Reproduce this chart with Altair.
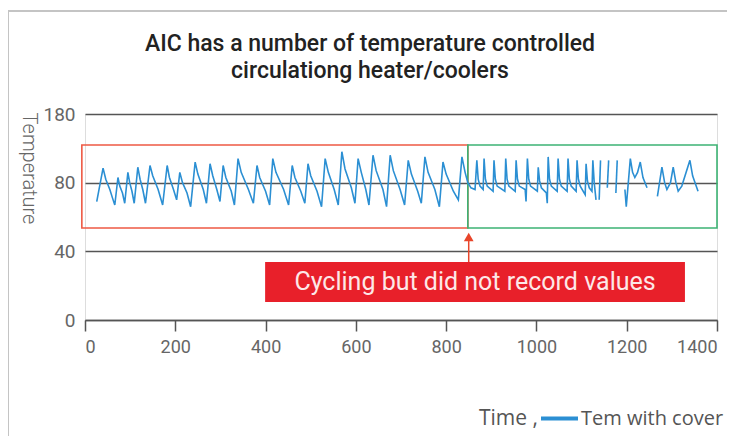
import altair as alt
import pandas as pd

# ---------------- data ----------------
title_lines = ["AIC has a number of temperature controlled", "circulationg heater/coolers"]
series_name = "Tem with cover"
legend_prefix = "Time ,"

# main recorded stretch
time_a = [26, 40, 46, 55, 61, 66,
          73, 77, 83, 88,
          95, 99, 104, 109,
          117, 122, 128, 134,
          144, 150, 162, 172,
          182, 187, 196, 203,
          210, 216, 226, 234,
          244, 250, 262, 269,
          277, 283, 292, 299,
          306, 312, 324, 331,
          339, 346, 362, 373,
          381, 387, 400, 409,
          416, 423, 440, 451,
          459, 465, 478, 487,
          494, 500, 514, 524,
          532, 539, 552, 561,
          569, 576, 590, 598,
          605, 612, 622, 629,
          638, 645, 660, 668,
          676, 683, 698, 708,
          716, 723, 737, 745,
          753, 760, 775, 785,
          793, 800, 816, 827,
          835, 842, 848,
          855, 864,
          868, 871, 875, 882,
          884, 887, 891, 904,
          906, 909, 913, 930,
          932, 935, 939, 953,
          955, 958, 962, 975, 977,
          980, 983, 987, 1002,
          1004, 1007, 1011, 1022, 1024,
          1026, 1029, 1033, 1046,
          1048, 1051, 1055, 1068,
          1070, 1073, 1077, 1088,
          1090, 1093, 1097, 1108,
          1110, 1113, 1117, 1123,
          1125, 1128, 1132]
temp_a = [69, 88.5, 82, 76, 71, 67,
          83, 78, 74, 68,
          86, 80, 75, 68,
          89, 82, 76, 68,
          90, 84, 76, 67,
          90, 83, 76, 70,
          86, 80, 74, 66,
          92, 85, 76, 68,
          91, 84, 76, 69,
          90, 83, 75, 67,
          94, 86, 76, 68,
          90, 83, 75, 67,
          94, 86, 76, 67,
          90, 83, 75, 68,
          91, 84, 75, 66,
          94, 86, 76, 67,
          98, 88, 77, 68,
          94, 86, 76, 67,
          96, 87, 76, 66,
          96, 87, 76, 67,
          93, 85, 75, 68,
          95, 86, 76, 66,
          92, 85, 75, 70,
          95, 86, 80,
          77, 76,
          93, 82, 78, 76,
          94, 82, 78, 75,
          93, 82, 78, 75,
          94, 82, 78, 75,
          93, 82, 78, 76, 69,
          94, 82, 78, 75,
          89, 81, 77, 74, 68,
          95, 82, 78, 75,
          94, 82, 78, 75,
          94, 82, 78, 75,
          93, 82, 78, 73,
          91, 81, 77, 75,
          93, 80, 70]

# short recorded fragments
time_b = [1139, 1142]
temp_b = [70, 93]
time_c = [1157, 1160]
temp_c = [77, 93]
time_d = [1176, 1179]
temp_d = [74, 93]
time_e = [1196, 1199, 1208, 1213, 1218, 1224, 1230, 1236, 1245]
temp_e = [76, 66, 94, 86, 83, 86, 92, 83, 77]
time_f = [1268, 1278, 1284, 1289, 1297, 1303, 1309, 1314, 1322, 1340, 1346, 1358]
temp_f = [72, 89, 80, 76, 80, 89, 80, 75, 78, 93, 84, 75]

# axis ticks
x_ticks = [0, 200, 400, 600, 800, 1000, 1200, 1400]
y_ticks = [0, 40, 80, 120]
y_tick_labels = ["0", "40", "80", "180"]

# annotation regions (data units)
box_start = [-7, 848]
box_end = [848, 1400]
box_low = [53.6, 53.6]
box_high = [101.9, 101.9]
box_color = ["#ee5a44", "#3db374"]

note_text = "Cycling but did not record values"
note_x = [399, 1329]
note_y = [10.5, 33.8]
arrow_x = 850
arrow_y = [33.8, 46]
arrow_head_y = 48.3

# ---------------- build ----------------
rows = []
for seg, (xs, ys) in enumerate([(time_a, temp_a), (time_b, temp_b), (time_c, temp_c),
                                 (time_d, temp_d), (time_e, temp_e), (time_f, temp_f)]):
    for xv, yv in zip(xs, ys):
        rows.append({"time": xv, "temp": yv, "seg": seg, "series": series_name})
df = pd.DataFrame(rows)

FONT = "Roboto"
x_scale = alt.Scale(domain=[0, 1400], nice=False, zero=False)
y_scale = alt.Scale(domain=[0, 120], nice=False)

label_expr = " : ".join(
    f"datum.value == {v} ? '{l}'" for v, l in zip(y_ticks, y_tick_labels)
) + " : datum.label"

line = alt.Chart(df).mark_line(strokeWidth=1.6).encode(
    x=alt.X("time:Q", scale=x_scale,
            axis=alt.Axis(values=x_ticks, format="d", title=None, grid=False,
                          domainColor="#555", domainWidth=1.5, tickColor="#555",
                          tickWidth=1.5, tickSize=11, labelFont=FONT, labelFontSize=18,
                          labelColor="#666", labelPadding=7)),
    y=alt.Y("temp:Q", scale=y_scale,
            axis=alt.Axis(values=y_ticks, labelExpr=label_expr, grid=True, gridColor="#555",
                          gridWidth=1.5, domain=False, ticks=False, labelPadding=10,
                          labelFont=FONT, labelFontSize=19, labelColor="#666",
                          title="Temperature", titleAngle=90, titleX=-57, titleY=54,
                          titleAlign="center", titleBaseline="middle", titleFont="Roboto",
                          titleFontSize=20, titleFontWeight=300, titleColor="#666")),
    detail="seg:N",
    color=alt.Color("series:N",
                    scale=alt.Scale(domain=[series_name], range=["#2b8fd3"]),
                    legend=alt.Legend(orient="none", legendX=454, legendY=284,
                                      title=None,
                                      labelFont="Open Sans", labelFontSize=20, labelColor="#555",
                                      labelOffset=1, symbolType="stroke", symbolSize=1369,
                                      symbolStrokeWidth=4)),
)

prefix_df = pd.DataFrame({"t": [legend_prefix]})
legend_prefix_text = alt.Chart(prefix_df).mark_text(
    font="Open Sans", fontSize=21, color="#555", align="left", baseline="middle"
).encode(x=alt.value(394), y=alt.value(305), text="t:N")

boxes_df = pd.DataFrame({"x": box_start, "x2": box_end, "y": box_low, "y2": box_high,
                         "c": box_color})
boxes = alt.Chart(boxes_df).mark_rect(fill=None, strokeWidth=1.6).encode(
    x=alt.X("x:Q", scale=x_scale), x2="x2:Q",
    y=alt.Y("y:Q", scale=y_scale), y2="y2:Q",
    stroke=alt.Stroke("c:N", scale=None),
)

note_df = pd.DataFrame({"x": [note_x[0]], "x2": [note_x[1]], "y": [note_y[0]],
                        "y2": [note_y[1]], "xm": [(note_x[0] + note_x[1]) / 2],
                        "ym": [(note_y[0] + note_y[1]) / 2], "t": [note_text]})
note_box = alt.Chart(note_df).mark_rect(fill="#e8202a").encode(
    x=alt.X("x:Q", scale=x_scale), x2="x2:Q",
    y=alt.Y("y:Q", scale=y_scale), y2="y2:Q",
)
note_label = alt.Chart(note_df).mark_text(font=FONT, fontSize=25, color="#fde8e8",
                                          baseline="middle", align="center").encode(
    x=alt.X("xm:Q", scale=x_scale), y=alt.Y("ym:Q", scale=y_scale), text="t:N"
)

arrow_df = pd.DataFrame({"x": [arrow_x], "y": [arrow_y[0]], "y2": [arrow_y[1]],
                         "yh": [arrow_head_y]})
arrow_shaft = alt.Chart(arrow_df).mark_rule(color="#e8452a", strokeWidth=1.5).encode(
    x=alt.X("x:Q", scale=x_scale), y=alt.Y("y:Q", scale=y_scale), y2="y2:Q"
)
arrow_head = alt.Chart(arrow_df).mark_point(shape="triangle-up", filled=True, size=95,
                                            color="#e8452a", opacity=1).encode(
    x=alt.X("x:Q", scale=x_scale), y=alt.Y("yh:Q", scale=y_scale)
)

frame_top = alt.Chart(note_df).mark_rule(color="#c4c4c4", strokeWidth=2).encode(
    x=alt.value(-77), x2=alt.value(700), y=alt.value(-103))
frame_left = alt.Chart(note_df).mark_rule(color="#c4c4c4", strokeWidth=2).encode(
    x=alt.value(-77), y=alt.value(-103), y2=alt.value(340))

chart = alt.layer(
    frame_top, frame_left, boxes, line, note_box, note_label, arrow_shaft, arrow_head,
    legend_prefix_text
).properties(
    width=632, height=206,
    title=alt.TitleParams(text=title_lines, anchor="middle", frame="group", dx=-31,
                          offset=-73, font=FONT, fontSize=23, fontWeight=500,
                          color="#222", lineHeight=27),
    autosize=alt.AutoSizeParams(type="none"),
    padding={"left": 77, "top": 106, "right": 10, "bottom": 116},
).configure_view(stroke=None).configure(background="white")

chart.save("out.html", embed_options={"renderer": "svg", "actions": False})
